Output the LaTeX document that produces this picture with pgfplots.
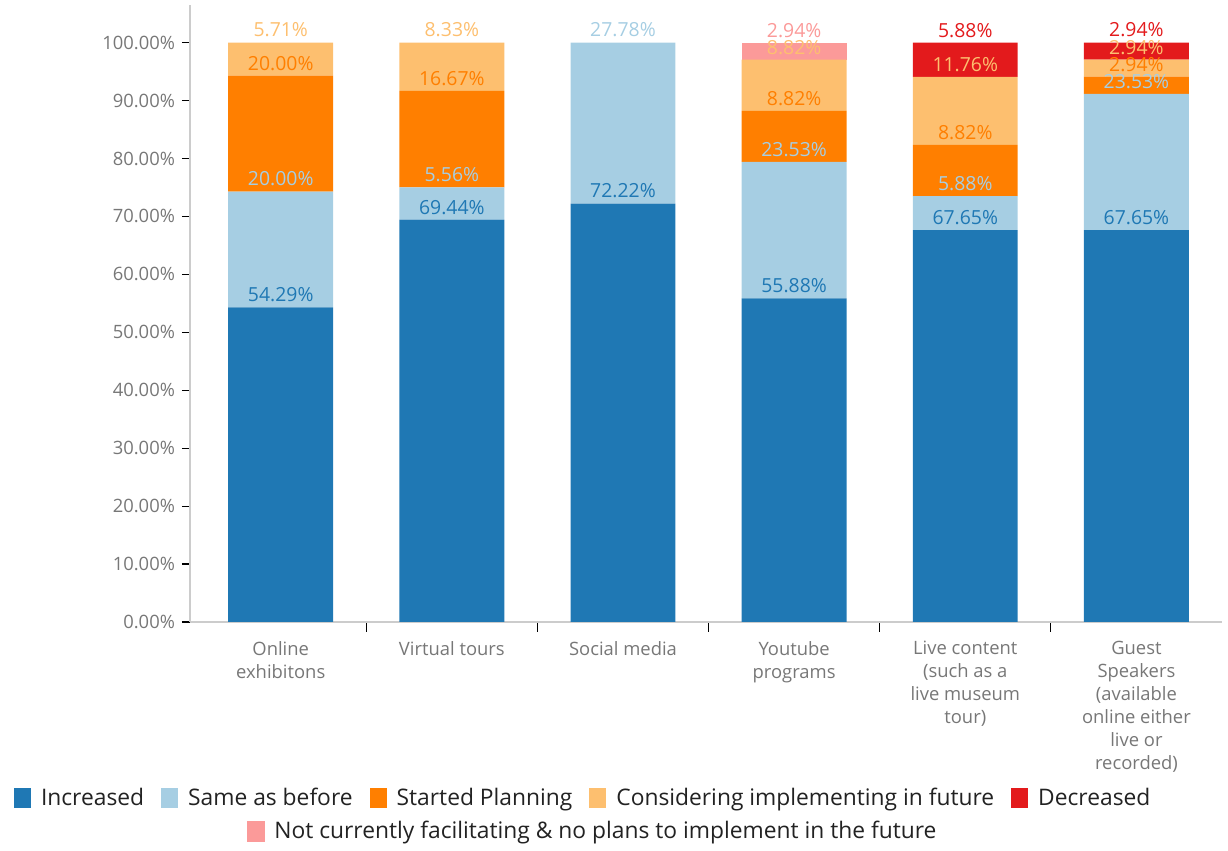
\documentclass[border=0pt]{standalone}
\usepackage{fontspec}
\setmainfont{Open Sans}
\usepackage{pgfplots}
\pgfplotsset{compat=1.18}
\definecolor{cInc}{HTML}{1F78B4}
\definecolor{cSame}{HTML}{A6CEE3}
\definecolor{cStart}{HTML}{FF7F00}
\definecolor{cCons}{HTML}{FDBF6F}
\definecolor{cDec}{HTML}{E31A1C}
\definecolor{cNot}{HTML}{FB9A99}
\definecolor{tickgray}{HTML}{777777}
\definecolor{axisgray}{HTML}{CCCCCC}
\definecolor{legtext}{HTML}{222222}
\pgfplotstableread{
x inc same start cons dec not
0 54.29 20.00 20.00 5.71 0 0
1 69.44 5.56 16.67 8.33 0 0
2 72.22 27.78 0 0 0 0
3 55.88 23.53 8.82 8.82 0 2.94
4 67.65 5.88 8.82 11.76 5.88 0
5 67.65 23.53 2.94 2.94 2.94 0
}\datatable
\pgfplotsset{
  sq legend/.style={legend image code/.code={\fill[##1] (0pt,-5pt) rectangle (8.5pt,5pt);}},
  lbl/.style={every node near coord/.append style={text=#1}},
  common/.style={scale only axis, width=516pt, height=308.5pt,
    xmin=-0.53, xmax=5.5, ymin=0, ymax=106.5},
}
\begin{document}
\begin{tikzpicture}
\useasboundingbox (-95pt,-114.5pt) rectangle (519pt,311pt);
\begin{axis}[
  common, ybar stacked, bar width=0.613,
  axis lines*=left,
  axis line style={draw=axisgray, line width=0.8pt},
  xtick={0,...,5},
  xticklabels={{Online\\exhibitons},{Virtual tours},{Social media},{Youtube\\programs},{Live content\\(such as a\\live museum\\tour)},{Guest\\Speakers\\(available\\online either\\live or\\recorded)}},
  major x tick style={draw=none},
  minor xtick={0.5,1.5,2.5,3.5,4.5},
  minor x tick style={draw=black, line width=0.6pt},
  ytick={0,10,...,100},
  major y tick style={draw=black, line width=0.6pt},
  tick align=outside, major tick length=4pt, minor tick length=5pt,
  /pgf/number format/assume math mode=true,
  yticklabel={\pgfmathprintnumber[fixed,fixed zerofill,precision=2]{\tick}\%},
  ticklabel style={font=\fontsize{9.2}{11.5}\selectfont, text=tickgray},
  xticklabel style={align=center, yshift=-2pt},
  legend style={at={(0.382,-0.285)}, anchor=center, draw=none, fill=none, legend columns=5,
    font=\fontsize{11.4}{13}\selectfont, text=legtext,
    /tikz/every odd column/.append style={column sep=3pt},
    /tikz/every even column/.append style={column sep=6.5pt}},
]
\addplot[fill=cInc, draw=none, sq legend] table[x=x, y=inc] {\datatable};
\addlegendentry{Increased}
\addplot[fill=cSame, draw=none, sq legend] table[x=x, y=same] {\datatable};
\addlegendentry{Same as before}
\addplot[fill=cStart, draw=none, sq legend] table[x=x, y=start] {\datatable};
\addlegendentry{Started Planning}
\addplot[fill=cCons, draw=none, sq legend] table[x=x, y=cons] {\datatable};
\addlegendentry{Considering implementing in future}
\addplot[fill=cDec, draw=none, sq legend] table[x=x, y=dec] {\datatable};
\addlegendentry{Decreased}
\addplot[fill=cNot, draw=none, forget plot] table[x=x, y=not] {\datatable};
\end{axis}
% value labels at the top of each stacked segment, drawn over all bars
\begin{axis}[
  common, hide axis, stack plots=y,
  /pgf/number format/assume math mode=true,
  point meta=explicit,
  nodes near coords={\pgfmathfloatifflags{\pgfplotspointmeta}{0}{}{\pgfmathprintnumber[fixed,fixed zerofill,precision=2]{\pgfplotspointmeta}\%}},
  every node near coord/.append style={font=\fontsize{9.7}{11}\selectfont, anchor=south, inner sep=1pt, yshift=1.5pt},
]
\addplot[draw=none, mark=none, lbl=cInc] table[x=x, y=inc, meta=inc] {\datatable};
\addplot[draw=none, mark=none, lbl=cSame] table[x=x, y=same, meta=same] {\datatable};
\addplot[draw=none, mark=none, lbl=cStart] table[x=x, y=start, meta=start] {\datatable};
\addplot[draw=none, mark=none, lbl=cCons] table[x=x, y=cons, meta=cons] {\datatable};
\addplot[draw=none, mark=none, lbl=cDec] table[x=x, y=dec, meta=dec] {\datatable};
\addplot[draw=none, mark=none, lbl=cNot] table[x=x, y=not, meta=not] {\datatable};
\end{axis}
\begin{axis}[
  scale only axis, width=516pt, height=308.5pt, hide axis,
  xmin=0, xmax=1, ymin=0, ymax=1,
  legend style={at={(0.391,-0.340)}, anchor=center, draw=none, fill=none,
    font=\fontsize{11.4}{13}\selectfont, text=legtext,
    /tikz/every odd column/.append style={column sep=3pt}},
]
\addlegendimage{legend image code/.code={\fill[cNot] (0pt,-5pt) rectangle (8.5pt,5pt);}}
\addlegendentry{Not currently facilitating \& no plans to implement in the future}
\end{axis}
\end{tikzpicture}
\end{document}
